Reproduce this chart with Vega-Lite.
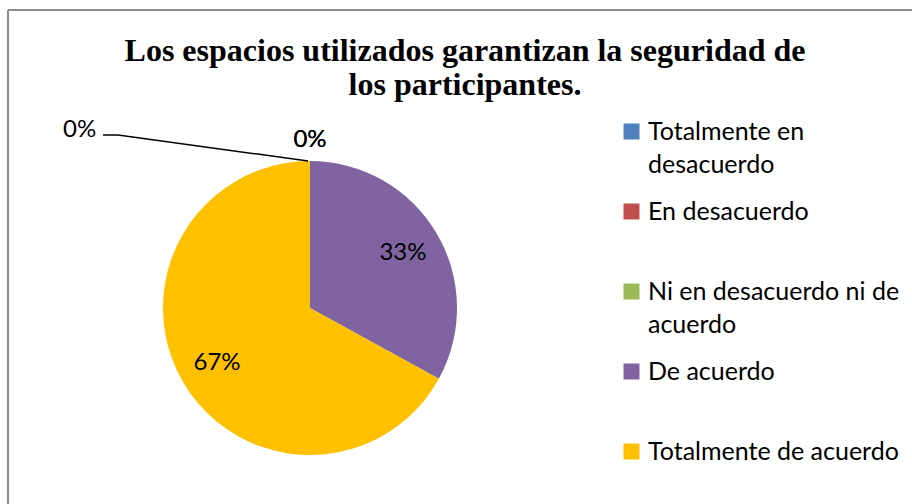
{
  "$schema": "https://vega.github.io/schema/vega-lite/v6.json",
  "width": 294,
  "height": 294,
  "autosize": {"type": "none"},
  "padding": {"left": 163, "top": 161, "right": 455, "bottom": 49},
  "background": "white",
  "config": {"view": {"stroke": null}},
  "title": {
    "text": ["Los espacios utilizados garantizan la seguridad de", "los participantes."],
    "font": "Liberation Serif",
    "fontSize": 32,
    "fontWeight": "bold",
    "color": "black",
    "anchor": "middle",
    "frame": "group",
    "baseline": "bottom",
    "dx": 155,
    "offset": -125,
    "lineHeight": 34
  },
  "data": {
    "values": [
      {"categoria": "Totalmente en desacuerdo", "valor": 0, "orden": 1},
      {"categoria": "En desacuerdo", "valor": 0, "orden": 2},
      {"categoria": "Ni en desacuerdo ni de acuerdo", "valor": 0, "orden": 3},
      {"categoria": "De acuerdo", "valor": 0.33, "orden": 4},
      {"categoria": "Totalmente de acuerdo", "valor": 0.67, "orden": 5}
    ]
  },
  "layer": [
    {
      "data": {"values": [{}]},
      "mark": {"type": "rule", "color": "#8c8c8c", "strokeWidth": 2},
      "encoding": {
        "x": {"value": -155},
        "y": {"value": -151},
        "x2": {"value": 760},
        "y2": {"value": -151}
      }
    },
    {
      "data": {"values": [{}]},
      "mark": {"type": "rule", "color": "#8c8c8c", "strokeWidth": 2},
      "encoding": {
        "x": {"value": -155},
        "y": {"value": -151},
        "x2": {"value": -155},
        "y2": {"value": 350}
      }
    },
    {
      "mark": {"type": "arc", "radius": 147},
      "encoding": {
        "theta": {"field": "valor", "type": "quantitative", "stack": true},
        "order": {"field": "orden", "type": "quantitative"},
        "color": {
          "field": "categoria",
          "type": "nominal",
          "sort": null,
          "scale": {
            "domain": ["Totalmente en desacuerdo", "En desacuerdo", "Ni en desacuerdo ni de acuerdo", "De acuerdo", "Totalmente de acuerdo"],
            "range": ["#4F81BD", "#C0504D", "#9BBB59", "#8064A2", "#FFC000"]
          },
          "legend": {
            "orient": "none",
            "legendX": 456,
            "legendY": -42,
            "title": null,
            "padding": 0,
            "symbolType": "square",
            "symbolSize": 256,
            "symbolStrokeWidth": 0,
            "labelFont": "Lato",
            "labelFontSize": 25,
            "labelColor": "black",
            "labelLimit": 0,
            "labelOffset": 4,
            "labelBaseline": "alphabetic",
            "gridAlign": "all",
            "rowPadding": 21,
            "labelExpr": "datum.label == 'Totalmente en desacuerdo' ? ['Totalmente en', 'desacuerdo'] : datum.label == 'Ni en desacuerdo ni de acuerdo' ? ['Ni en desacuerdo ni de', 'acuerdo'] : datum.label",
            "encode": {"labels": {"update": {"dy": {"value": 8}, "lineHeight": {"value": 33}}}}
          }
        }
      }
    },
    {
      "transform": [{"filter": "datum.valor > 0"}],
      "mark": {"type": "text", "radius": 108, "font": "Lato", "fontSize": 24, "color": "black"},
      "encoding": {
        "theta": {"field": "valor", "type": "quantitative", "stack": true},
        "order": {"field": "orden", "type": "quantitative"},
        "detail": {"field": "categoria", "type": "nominal"},
        "text": {"field": "valor", "type": "quantitative", "format": ".0%"}
      }
    },
    {
      "transform": [{"filter": "datum.valor == 0 && datum.orden > 1"}],
      "mark": {"type": "text", "radius": 168, "font": "Lato", "fontSize": 24, "color": "black"},
      "encoding": {
        "theta": {"field": "valor", "type": "quantitative", "stack": true},
        "order": {"field": "orden", "type": "quantitative"},
        "detail": {"field": "categoria", "type": "nominal"},
        "text": {"field": "valor", "type": "quantitative", "format": ".0%"}
      }
    },
    {
      "transform": [{"filter": "datum.orden == 1"}],
      "mark": {"type": "text", "radius": 291, "thetaOffset": -0.914, "font": "Lato", "fontSize": 24, "color": "black"},
      "encoding": {
        "theta": {"field": "valor", "type": "quantitative", "stack": true},
        "order": {"field": "orden", "type": "quantitative"},
        "detail": {"field": "categoria", "type": "nominal"},
        "text": {"field": "valor", "type": "quantitative", "format": ".0%"}
      }
    },
    {
      "data": {"values": [{}]},
      "mark": {"type": "rule", "color": "black", "strokeWidth": 1.5},
      "encoding": {
        "x": {"value": -60},
        "y": {"value": -26},
        "x2": {"value": -45},
        "y2": {"value": -26}
      }
    },
    {
      "data": {"values": [{}]},
      "mark": {"type": "rule", "color": "black", "strokeWidth": 1.5},
      "encoding": {
        "x": {"value": -45},
        "y": {"value": -26},
        "x2": {"value": 145},
        "y2": {"value": 0}
      }
    }
  ]
}
